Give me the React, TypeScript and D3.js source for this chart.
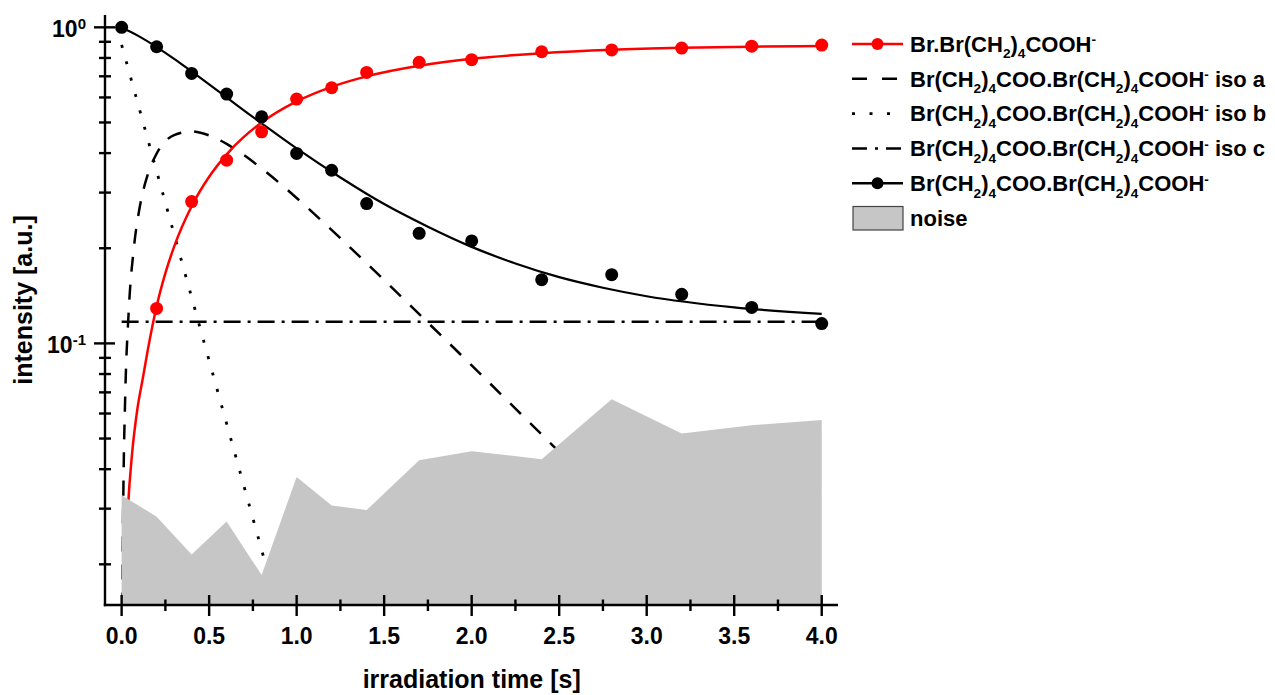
import React from "react";
import * as d3 from "d3";

// Measurement times [s]
const measuredTimes = [0, 0.2, 0.4, 0.6, 0.8, 1.0, 1.2, 1.4, 1.7, 2.0, 2.4, 2.8, 3.2, 3.6, 4.0];
// Br.Br(CH2)4COOH- product (no signal at t = 0)
const productTimes = [0.2, 0.4, 0.6, 0.8, 1.0, 1.2, 1.4, 1.7, 2.0, 2.4, 2.8, 3.2, 3.6, 4.0];
const productValues = [0.129, 0.281, 0.38, 0.467, 0.593, 0.644, 0.72, 0.775, 0.79, 0.837, 0.848, 0.86, 0.872, 0.879];
// Br(CH2)4COO.Br(CH2)4COOH- parent cluster
const dimerValues = [1.0, 0.868, 0.715, 0.615, 0.521, 0.399, 0.353, 0.277, 0.223, 0.211, 0.159, 0.165, 0.143, 0.13, 0.1155];
// noise floor
const noiseValues = [0.0331, 0.0283, 0.0215, 0.0273, 0.0185, 0.0378, 0.0307, 0.0297, 0.0427, 0.0456, 0.043, 0.0666, 0.0519, 0.0551, 0.0572];

// Kinetic fit curves
const productFitTimes = [0, 0.008, 0.016, 0.025, 0.036, 0.06, 0.09, 0.12, 0.15, 0.2, 0.25, 0.3, 0.4, 0.5, 0.6, 0.7, 0.8, 1.0, 1.2, 1.4, 1.7, 2.0, 2.4, 2.8, 3.2, 3.6, 4.0];
const productFitValues = [0.0003, 0.007, 0.0145, 0.022, 0.03, 0.045, 0.062, 0.077, 0.0956, 0.131, 0.1668, 0.2024, 0.2716, 0.3367, 0.3965, 0.4509, 0.4999, 0.5827, 0.648, 0.6994, 0.7554, 0.7948, 0.828, 0.8488, 0.8611, 0.8686, 0.8731];

const isoATimes = [0.001, 0.005, 0.01, 0.02, 0.04, 0.07, 0.1, 0.15, 0.2, 0.3, 0.4, 0.5, 0.6, 0.7, 0.8, 1.0, 1.25, 1.5, 1.75, 2.0, 2.25, 2.5, 2.75, 3.0, 3.5, 4.0];
const isoAValues = [0.0035, 0.0173, 0.0341, 0.0662, 0.125, 0.2007, 0.2632, 0.343, 0.3983, 0.4562, 0.4686, 0.4551, 0.4278, 0.3939, 0.3579, 0.2885, 0.2151, 0.1585, 0.1163, 0.0852, 0.0622, 0.0454, 0.0332, 0.0242, 0.0129, 0.0069];

const isoBTimes = [0, 0.1, 0.2, 0.3, 0.4, 0.5, 0.6, 0.7, 0.8, 0.9, 1.0];
const isoBValues = [0.88, 0.5555, 0.3507, 0.2214, 0.1398, 0.0882, 0.0557, 0.0352, 0.0222, 0.014, 0.0088];

const isoCTimes = [0, 4];
const isoCValues = [0.117, 0.117];

const dimerFitTimes = [0, 0.05, 0.1, 0.2, 0.3, 0.4, 0.5, 0.6, 0.7, 0.8, 1.0, 1.25, 1.5, 1.75, 2.0, 2.25, 2.5, 2.75, 3.0, 3.5, 4.0];
const dimerFitValues = [0.997, 0.968, 0.936, 0.866, 0.795, 0.725, 0.66, 0.6, 0.545, 0.497, 0.414, 0.335, 0.276, 0.234, 0.202, 0.179, 0.162, 0.15, 0.141, 0.13, 0.124];

const xTickValues = [0, 0.5, 1.0, 1.5, 2.0, 2.5, 3.0, 3.5, 4.0];
const xTickLabels = ["0.0", "0.5", "1.0", "1.5", "2.0", "2.5", "3.0", "3.5", "4.0"];
const xMinorTicks = [0.25, 0.75, 1.25, 1.75, 2.25, 2.75, 3.25, 3.75];
const yMajorTicks = [1, 0.1];
const yMajorExponents = ["0", "-1"];

const legendLabels = [
  "Br.Br(CH_2)_4COOH^-",
  "Br(CH_2)_4COO.Br(CH_2)_4COOH^- iso a",
  "Br(CH_2)_4COO.Br(CH_2)_4COOH^- iso b",
  "Br(CH_2)_4COO.Br(CH_2)_4COOH^- iso c",
  "Br(CH_2)_4COO.Br(CH_2)_4COOH^-",
  "noise",
];

const FONT = "'Liberation Sans', Arial, Helvetica, sans-serif";
const RED = "#ff0000";
const NOISE = "#c6c6c6";

const W = 1275;
const H = 695;
const plot = { left: 105, right: 838, top: 15, bottom: 605 };

const x = d3.scaleLinear().domain([-0.095, 4.093]).range([plot.left, plot.right]);
const y = d3.scaleLog().domain([0.01487, 1.094]).range([plot.bottom, plot.top]);

type Pt = [number, number];
const zip = (t: number[], v: number[]): Pt[] => t.map((ti, i) => [ti, v[i]]);

const fitLine = d3
  .line<Pt>()
  .x((d) => x(d[0]))
  .y((d) => y(d[1]))
  .curve(d3.curveMonotoneX);

const noiseArea = d3
  .area<Pt>()
  .x((d) => x(d[0]))
  .y0(plot.bottom)
  .y1((d) => y(d[1]));

const DASH = "15,13";
const DOT = "3,14";
const DASHDOT = "17,7,3,7";

// Render a formula string: "_x" -> subscript char, "^x" -> superscript char
function Formula({ str, px, py, size }: { str: string; px: number; py: number; size: number }) {
  const runs: { text: string; kind: "n" | "sub" | "sup" }[] = [];
  let i = 0;
  while (i < str.length) {
    const c = str[i];
    if (c === "_" || c === "^") {
      runs.push({ text: str[i + 1], kind: c === "_" ? "sub" : "sup" });
      i += 2;
    } else {
      if (runs.length && runs[runs.length - 1].kind === "n") runs[runs.length - 1].text += c;
      else runs.push({ text: c, kind: "n" });
      i += 1;
    }
  }
  const small = size * 0.62;
  let cur = 0;
  return (
    <text x={px} y={py} fontFamily={FONT} fontWeight="bold" fontSize={size} fill="#000" style={{ whiteSpace: "pre" }}>
      {runs.map((r, k) => {
        const target = r.kind === "sub" ? 6.5 : r.kind === "sup" ? -7.5 : 0;
        const dy = target - cur;
        cur = target;
        return (
          <tspan key={k} dy={dy} fontSize={r.kind === "n" ? size : small}>
            {r.text}
          </tspan>
        );
      })}
    </text>
  );
}

export default function App() {
  const productPts = zip(productTimes, productValues);
  const dimerPts = zip(measuredTimes, dimerValues);
  const noisePts = zip(measuredTimes, noiseValues);

  const legendX0 = 852;
  const legendX1 = 903;
  const legendRowY = (i: number) => 44 + 34.8 * i;

  return (
    <svg width={W} height={H} style={{ position: "absolute", left: 0, top: 0, background: "#fff" }}>
      <defs>
        <clipPath id="plotClip">
          <rect x={plot.left} y={plot.top - 10} width={plot.right - plot.left} height={plot.bottom - plot.top + 10} />
        </clipPath>
      </defs>

      <g clipPath="url(#plotClip)">
        <path d={fitLine(zip(isoCTimes, isoCValues)) || ""} fill="none" stroke="#000" strokeWidth={2.5} strokeDasharray={DASHDOT} />
        <path d={fitLine(zip(isoATimes, isoAValues)) || ""} fill="none" stroke="#000" strokeWidth={2.5} strokeDasharray={DASH} />
        <path d={fitLine(zip(isoBTimes, isoBValues)) || ""} fill="none" stroke="#000" strokeWidth={2.8} strokeDasharray={DOT} />
        <path d={fitLine(zip(dimerFitTimes, dimerFitValues)) || ""} fill="none" stroke="#000" strokeWidth={2.2} />
        <path d={fitLine(zip(productFitTimes, productFitValues)) || ""} fill="none" stroke={RED} strokeWidth={2.5} />

        {dimerPts.map((d, i) => (
          <circle key={"d" + i} cx={x(d[0])} cy={y(d[1])} r={6.5} fill="#000" />
        ))}
        {productPts.map((d, i) => (
          <circle key={"p" + i} cx={x(d[0])} cy={y(d[1])} r={6.5} fill={RED} />
        ))}

        <path d={noiseArea(noisePts) || ""} fill={NOISE} stroke="none" />
      </g>

      {/* axes */}
      <g stroke="#000" strokeWidth={2.4}>
        <line x1={plot.left} x2={plot.left} y1={plot.top} y2={plot.bottom + 1.2} />
        <line x1={plot.left - 1.2} x2={plot.right} y1={plot.bottom} y2={plot.bottom} />
        {xTickValues.map((t, i) => (
          <line key={"xt" + i} x1={x(t)} x2={x(t)} y1={plot.bottom - 10} y2={plot.bottom + 11} />
        ))}
        {xMinorTicks.map((t, i) => (
          <line key={"xm" + i} x1={x(t)} x2={x(t)} y1={plot.bottom - 5.5} y2={plot.bottom + 6} />
        ))}
        {y
          .ticks()
          .filter((v) => !yMajorTicks.some((m) => Math.abs(m - v) < 1e-9))
          .map((v, i) => (
            <line key={"ym" + i} x1={plot.left - 6} x2={plot.left + 6} y1={y(v)} y2={y(v)} />
          ))}
        {yMajorTicks.map((v, i) => (
          <line key={"yt" + i} x1={plot.left - 11} x2={plot.left + 10} y1={y(v)} y2={y(v)} />
        ))}
      </g>

      {xTickValues.map((t, i) => (
        <text key={"xl" + i} x={x(t)} y={643.5} textAnchor="middle" fontFamily={FONT} fontWeight="bold" fontSize={23} fill="#000">
          {xTickLabels[i]}
        </text>
      ))}
      {yMajorTicks.map((v, i) => (
        <text key={"yl" + i} x={86} y={y(v) + 9.5} textAnchor="end" fontFamily={FONT} fontWeight="bold" fontSize={23} fill="#000">
          10
          <tspan dy={-8} fontSize={15}>
            {yMajorExponents[i]}
          </tspan>
        </text>
      ))}

      <text x={(x(0) + x(4)) / 2} y={688} textAnchor="middle" fontFamily={FONT} fontWeight="bold" fontSize={25} fill="#000">
        irradiation time [s]
      </text>
      <text
        transform={`translate(32,${(plot.top + plot.bottom) / 2 - 10}) rotate(-90)`}
        textAnchor="middle"
        fontFamily={FONT}
        fontWeight="bold"
        fontSize={25}
        fill="#000"
      >
        intensity [a.u.]
      </text>

      {/* legend */}
      <g>
        <line x1={legendX0} x2={legendX1} y1={legendRowY(0)} y2={legendRowY(0)} stroke={RED} strokeWidth={2.5} />
        <circle cx={(legendX0 + legendX1) / 2} cy={legendRowY(0)} r={6} fill={RED} />

        <line x1={legendX0} x2={legendX1} y1={legendRowY(1)} y2={legendRowY(1)} stroke="#000" strokeWidth={2.5} strokeDasharray="15,15" />
        <line x1={legendX0} x2={legendX1} y1={legendRowY(2)} y2={legendRowY(2)} stroke="#000" strokeWidth={2.8} strokeDasharray="3,14.5" />
        <line x1={legendX0} x2={legendX1} y1={legendRowY(3)} y2={legendRowY(3)} stroke="#000" strokeWidth={2.5} strokeDasharray="15,8,3,8" />

        <line x1={legendX0} x2={legendX1} y1={legendRowY(4)} y2={legendRowY(4)} stroke="#000" strokeWidth={2.5} />
        <circle cx={(legendX0 + legendX1) / 2} cy={legendRowY(4)} r={6} fill="#000" />

        <rect x={legendX0 + 1} y={legendRowY(5) - 11.5} width={legendX1 - legendX0 - 1} height={23.5} fill={NOISE} stroke="#444" strokeWidth={1.2} />

        {legendLabels.map((s, i) => (
          <Formula key={"lg" + i} str={s} px={910} py={legendRowY(i) + 7.8} size={22} />
        ))}
      </g>
    </svg>
  );
}
